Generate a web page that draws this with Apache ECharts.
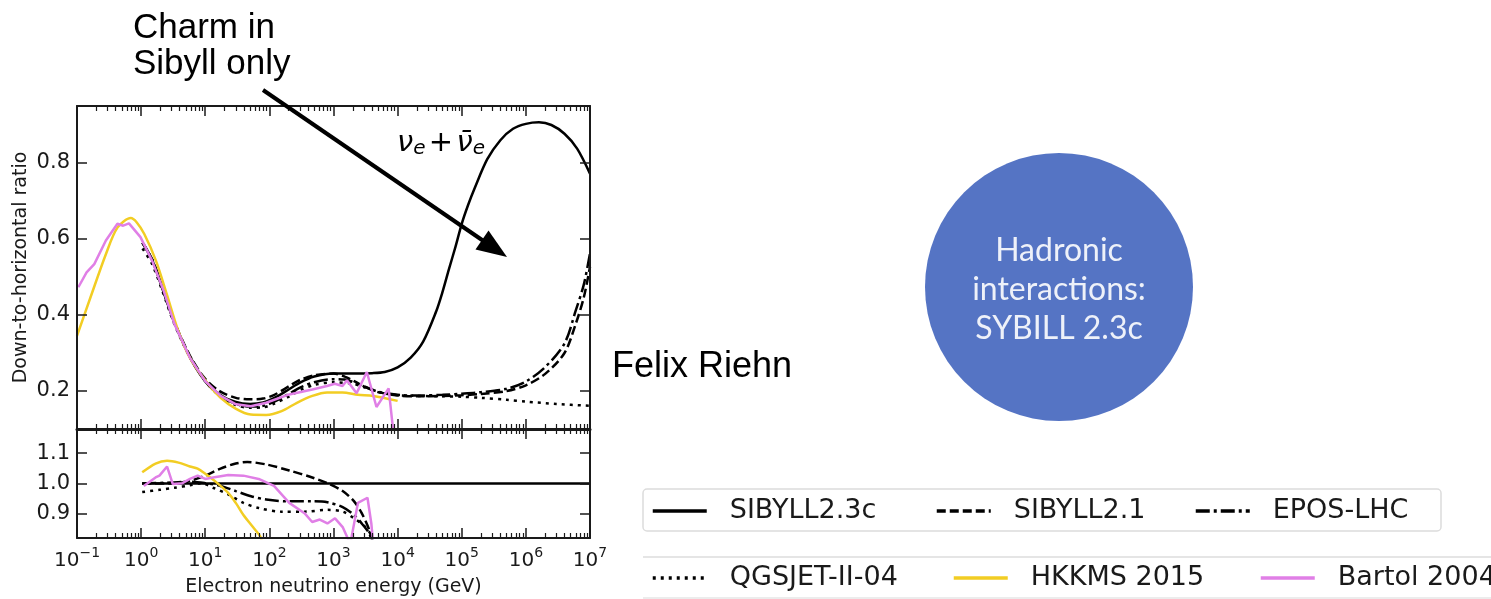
<!DOCTYPE html>
<html><head><meta charset="utf-8">
<script src="https://cdn.jsdelivr.net/npm/echarts@6/dist/echarts.min.js"></script>
<style>html,body{margin:0;padding:0;background:#fff}#c{width:1491px;height:599px}</style>
</head><body><div id="c"></div>
<script>
// ---- tick labels ----
const yTicksTop = [0.2, 0.4, 0.6, 0.8];
const yTicksRatio = [0.9, 1.0, 1.1];
const xDecades = [0.1, 1, 10, 100, 1e3, 1e4, 1e5, 1e6, 1e7];
const xRange = [0.1, 1e7];

// ---- top panel: down-to-horizontal ratio [energy GeV, ratio] ----
const sib23cTop = [[1.05,0.59],[1.5,0.543],[2.2,0.464],[3.3,0.38],[5.8,0.288],[10,0.226],[17,0.19],[30,0.171],[50,0.166],[80,0.17],[120,0.182],[200,0.204],[300,0.222],[500,0.238],[1000,0.246],[2000,0.246],[4000,0.247],[6300,0.25],[1e4,0.262],[1.6e4,0.288],[2.5e4,0.33],[4e4,0.41],[5e4,0.46],[6.3e4,0.52],[8e4,0.58],[1e5,0.64],[1.26e5,0.69],[1.6e5,0.735],[2.5e5,0.81],[4e5,0.86],[6.3e5,0.89],[1e6,0.903],[1.6e6,0.907],[2.5e6,0.9],[4e6,0.877],[6.3e6,0.838],[1e7,0.772]];
const sib21Top = [[1.05,0.59],[1.5,0.545],[2.2,0.466],[3.3,0.382],[5.8,0.292],[10,0.232],[17,0.199],[30,0.182],[50,0.178],[80,0.18],[120,0.19],[200,0.212],[300,0.229],[500,0.241],[1000,0.246],[1500,0.238],[2000,0.228],[3000,0.212],[5000,0.197],[1e4,0.188],[2e4,0.186],[5e4,0.187],[1e5,0.189],[2e5,0.192],[5e5,0.2],[1e6,0.215],[2e6,0.245],[4e6,0.3],[6e6,0.377],[8e6,0.446],[1e7,0.527]];
const eposTop = [[1.05,0.59],[1.5,0.545],[2.2,0.466],[3.3,0.381],[5.8,0.29],[10,0.226],[17,0.187],[30,0.166],[50,0.159],[80,0.161],[120,0.172],[200,0.192],[300,0.209],[500,0.223],[1000,0.231],[1500,0.23],[2000,0.224],[3000,0.212],[5000,0.198],[1e4,0.19],[2e4,0.188],[5e4,0.19],[1e5,0.193],[2e5,0.197],[5e5,0.206],[1e6,0.225],[2e6,0.263],[4e6,0.325],[6e6,0.412],[8e6,0.48],[1e7,0.562]];
const qgsTop = [[1.05,0.575],[1.5,0.532],[2.2,0.458],[3.3,0.376],[5.8,0.288],[10,0.226],[17,0.186],[30,0.163],[50,0.156],[80,0.157],[120,0.167],[200,0.185],[300,0.202],[500,0.216],[1000,0.223],[2000,0.219],[3000,0.21],[5000,0.197],[1e4,0.189],[2e4,0.187],[5e4,0.186],[1e5,0.185],[2e5,0.182],[5e5,0.177],[1e6,0.172],[3e6,0.166],[1e7,0.161]];
const hkkmsTop = [[0.1,0.345],[0.162,0.446],[0.282,0.56],[0.427,0.63],[0.69,0.655],[0.85,0.644],[1.12,0.613],[1.7,0.543],[2.51,0.455],[3.8,0.358],[5.75,0.288],[10,0.228],[17.4,0.182],[30.2,0.153],[51.3,0.138],[89,0.137],[155,0.147],[269,0.169],[468,0.187],[794,0.196],[1380,0.196],[2400,0.19],[4170,0.187],[1e4,0.174]];
const bartolTop = [[0.105,0.473],[0.141,0.512],[0.186,0.534],[0.282,0.596],[0.427,0.64],[0.525,0.635],[0.646,0.641],[0.977,0.605],[1.48,0.543],[2.24,0.464],[3.31,0.376],[5.75,0.288],[10,0.226],[17.4,0.187],[30.2,0.165],[51.3,0.16],[89,0.169],[204,0.191],[468,0.204],[794,0.213],[1047,0.219],[1380,0.213],[1620,0.228],[2290,0.194],[3310,0.25],[4680,0.158],[7240,0.207],[9120,0.05]];

// ---- bottom panel: ratio to SIBYLL2.3c ----
const sib23cRatio = [[1.04,1.0],[1e7,1.0]];
const sib21Ratio = [[1.04,1.0],[2.91,1.0],[5.78,1.009],[10,1.026],[17.3,1.049],[29.9,1.066],[45.2,1.071],[89.5,1.063],[204,1.043],[465,1.02],[804,1.001],[1390,0.975],[2094,0.941],[2754,0.902],[3631,0.845],[4100,0.8]];
const eposRatio = [[1.04,1.0],[2.91,1.003],[5.78,1.006],[10,1.001],[17.3,0.992],[29.9,0.975],[51.8,0.958],[89.5,0.947],[204,0.941],[465,0.941],[804,0.938],[1390,0.922],[2094,0.896],[2754,0.868],[3631,0.834],[4000,0.8]];
const qgsRatio = [[1.04,0.972],[1.93,0.979],[3.34,0.986],[5.78,0.994],[8.71,1.001],[13.2,0.986],[22.8,0.964],[39.4,0.936],[68.1,0.919],[155,0.907],[353,0.907],[804,0.913],[1390,0.907],[2094,0.885],[3162,0.856],[3890,0.828],[4100,0.8]];
const hkkmsRatio = [[1.04,1.037],[1.68,1.066],[2.54,1.075],[3.83,1.069],[5.78,1.056],[7.6,1.049],[10,1.032],[15.1,1.003],[22.8,0.969],[29.9,0.936],[39.4,0.896],[55.5,0.856],[73,0.823],[76,0.8]];
const bartolRatio = [[1.1,0.992],[1.68,1.02],[1.93,1.026],[2.54,1.056],[3.12,0.998],[4.4,1.001],[5.78,1.015],[7.6,1.026],[10,1.015],[13.2,1.02],[22.8,1.028],[39.4,1.026],[68.1,1.015],[118,0.992],[204,0.936],[353,0.902],[465,0.873],[611,0.881],[804,0.868],[1057,0.885],[1390,0.856],[1828,0.8],[2404,0.936],[3388,0.953],[3890,0.868],[4159,0.8]];

const names = ['SIBYLL2.3c','SIBYLL2.1','EPOS-LHC','QGSJET-II-04','HKKMS 2015','Bartol 2004'];

// minor tick positions of the log axis (2..9 x 10^k)
const minorTicks = [];
for (let k = -1; k <= 6; k++) for (let m = 2; m <= 9; m++) minorTicks.push(m * Math.pow(10, k));

const INK = '#1a1a1a';
const FONT = 'DejaVu Sans';
const styles = {
  'SIBYLL2.3c': {color: '#000', width: 2.5, type: 'solid'},
  'SIBYLL2.1': {color: '#000', width: 2.5, type: [9, 4]},
  'EPOS-LHC': {color: '#000', width: 2.5, type: [14, 4, 3, 4]},
  'QGSJET-II-04': {color: '#000', width: 2.5, type: [3, 5]},
  'HKKMS 2015': {color: '#f2cd23', width: 2.5, type: 'solid'},
  'Bartol 2004': {color: '#e07fe6', width: 2.5, type: 'solid'}
};
function lineSeries(name, data, xi, yi, smooth) {
  const s = styles[name];
  return {name, type: 'line', xAxisIndex: xi, yAxisIndex: yi, data, symbol: 'none', smooth,
    clip: true, color: s.color, lineStyle: {color: s.color, width: s.width, type: s.type}, z: 3};
}
// x axis: major (decade) or minor tick set
function xAx(grid, pos, opts) {
  const minor = !!opts.minor;
  const a = {type: 'log', logBase: 10, gridIndex: grid, position: pos, min: xRange[0], max: xRange[1], splitNumber: 10,
    axisLine: {show: !minor, lineStyle: {color: INK, width: opts.lw || 2}},
    axisTick: {show: true, inside: true, length: minor ? 5 : 10, customValues: minor ? minorTicks : xDecades,
      lineStyle: {color: INK, width: minor ? 1.2 : 1.5}},
    splitLine: {show: false}, axisLabel: {show: false}, z: 8};
  if (opts.labels) {
    a.axisLabel = {show: true, customValues: xDecades, margin: 8,
      formatter: v => { const e = Math.round(Math.log10(v)); return '{b|10}{e|' + (e < 0 ? '\u2212' + (-e) : e) + '}'; },
      rich: {b: {fontSize: 20, fontFamily: FONT, color: INK, verticalAlign: 'bottom', lineHeight: 25},
             e: {fontSize: 14, fontFamily: FONT, color: INK, verticalAlign: 'top', lineHeight: 14}}};
    a.name = 'Electron neutrino energy (GeV)';
    a.nameLocation = 'middle'; a.nameGap = 40;
    a.nameTextStyle = {fontSize: 19, fontFamily: FONT, color: INK};
  }
  return a;
}
function yAx(grid, pos, min, max, ticks, withLabels) {
  return {type: 'value', gridIndex: grid, position: pos, min, max,
    axisLine: {show: true, lineStyle: {color: INK, width: 2}},
    axisTick: {show: true, inside: true, length: 10, customValues: ticks, lineStyle: {color: INK, width: 1.5}},
    splitLine: {show: false}, z: 8,
    axisLabel: {show: withLabels, customValues: ticks, margin: 7, fontSize: 21, fontFamily: FONT, color: INK,
      formatter: v => Number(v).toFixed(1)}};
}

const chart = echarts.init(document.getElementById('c'), null, {renderer: 'canvas'});
const yLeftTop = yAx(0, 'left', 0.1, 0.95, yTicksTop, true);
yLeftTop.name = 'Down-to-horizontal ratio';
yLeftTop.nameLocation = 'middle'; yLeftTop.nameGap = 46;
yLeftTop.nameTextStyle = {fontSize: 19, fontFamily: FONT, color: INK};

const legendPos = [[651, 496], [935, 496], [1194, 496], [651, 563], [952, 563], [1259, 563]];
const legends = names.map((n, i) => ({data: [n], left: legendPos[i][0], top: legendPos[i][1], padding: 0,
  selectedMode: false, itemWidth: 54, itemHeight: 14,
  itemStyle: {opacity: 0, color: 'rgba(0,0,0,0)', borderWidth: 0},
  lineStyle: {width: 3.5},
  textStyle: {fontSize: 27, fontFamily: FONT, color: INK, padding: [0, 0, 0, 18], lineHeight: 30}}));

chart.setOption({
  animation: false,
  backgroundColor: '#fff',
  grid: [
    {left: 77, top: 106, width: 513, height: 323},
    {left: 77, top: 429, width: 513, height: 109}
  ],
  xAxis: [
    xAx(0, 'bottom', {lw: 3}), xAx(0, 'top', {}), xAx(1, 'bottom', {labels: true}), xAx(1, 'top', {}),
    xAx(0, 'bottom', {minor: true}), xAx(0, 'top', {minor: true}), xAx(1, 'bottom', {minor: true}), xAx(1, 'top', {minor: true})
  ],
  yAxis: [yLeftTop, yAx(0, 'right', 0.1, 0.95, yTicksTop, false),
          yAx(1, 'left', 0.82, 1.18, yTicksRatio, true), yAx(1, 'right', 0.82, 1.18, yTicksRatio, false)],
  legend: legends,
  series: [
    lineSeries('SIBYLL2.3c', sib23cTop, 0, 0, 0.3),
    lineSeries('SIBYLL2.1', sib21Top, 0, 0, 0.3),
    lineSeries('EPOS-LHC', eposTop, 0, 0, 0.3),
    lineSeries('QGSJET-II-04', qgsTop, 0, 0, 0.3),
    lineSeries('HKKMS 2015', hkkmsTop, 0, 0, 0.3),
    lineSeries('Bartol 2004', bartolTop, 0, 0, false),
    lineSeries('SIBYLL2.3c', sib23cRatio, 2, 2, false),
    lineSeries('SIBYLL2.1', sib21Ratio, 2, 2, 0.3),
    lineSeries('EPOS-LHC', eposRatio, 2, 2, 0.3),
    lineSeries('QGSJET-II-04', qgsRatio, 2, 2, 0.3),
    lineSeries('HKKMS 2015', hkkmsRatio, 2, 2, 0.3),
    lineSeries('Bartol 2004', bartolRatio, 2, 2, false)
  ],
  graphic: [
    {type: 'text', left: 133, top: 10, style: {text: 'Charm in\nSibyll only', fontSize: 35, fontFamily: 'Liberation Sans', fill: '#000', lineHeight: 36}},
    {type: 'line', shape: {x1: 263, y1: 90, x2: 485, y2: 242}, style: {stroke: '#000', lineWidth: 4}, z: 50},
    {type: 'polygon', shape: {points: [[507, 257], [475.5, 249.5], [488.5, 230.5]]}, style: {fill: '#000'}, z: 50},
    {type: 'text', left: 397, top: 129, z: 50, style: {text: '{n|\u03BD}{s|e} {o|+} {n|\u03BD\u0304}{s|e}',
      rich: {n: {fontSize: 29, fontFamily: FONT, fontStyle: 'italic', fill: '#000'},
             s: {fontSize: 20, fontFamily: FONT, fontStyle: 'italic', fill: '#000', padding: [11, 0, 0, 0]},
             o: {fontSize: 29, fontFamily: FONT, fill: '#000'}}}},
    {type: 'text', left: 612, top: 349, style: {text: 'Felix Riehn', fontSize: 36, fontFamily: 'Liberation Sans', fill: '#000', lineHeight: 36}},
    {type: 'circle', shape: {cx: 1059, cy: 287, r: 134}, style: {fill: '#5574c4'}},
    {type: 'text', x: 1059, y: 290, style: {text: 'Hadronic\ninteractions:\nSYBILL 2.3c', fill: '#eef1f9', fontSize: 32, fontFamily: 'Lato', align: 'center', verticalAlign: 'middle', lineHeight: 39}},
    {type: 'rect', shape: {x: 643, y: 489, width: 798, height: 42, r: 4}, style: {fill: 'none', stroke: '#dcdcdc', lineWidth: 1.5}},
    {type: 'line', shape: {x1: 643, y1: 557, x2: 1491, y2: 557}, style: {stroke: '#dcdcdc', lineWidth: 1.5}},
    {type: 'line', shape: {x1: 643, y1: 598, x2: 1491, y2: 598}, style: {stroke: '#e6e6e6', lineWidth: 1.5}}
  ]
});
</script></body></html>
